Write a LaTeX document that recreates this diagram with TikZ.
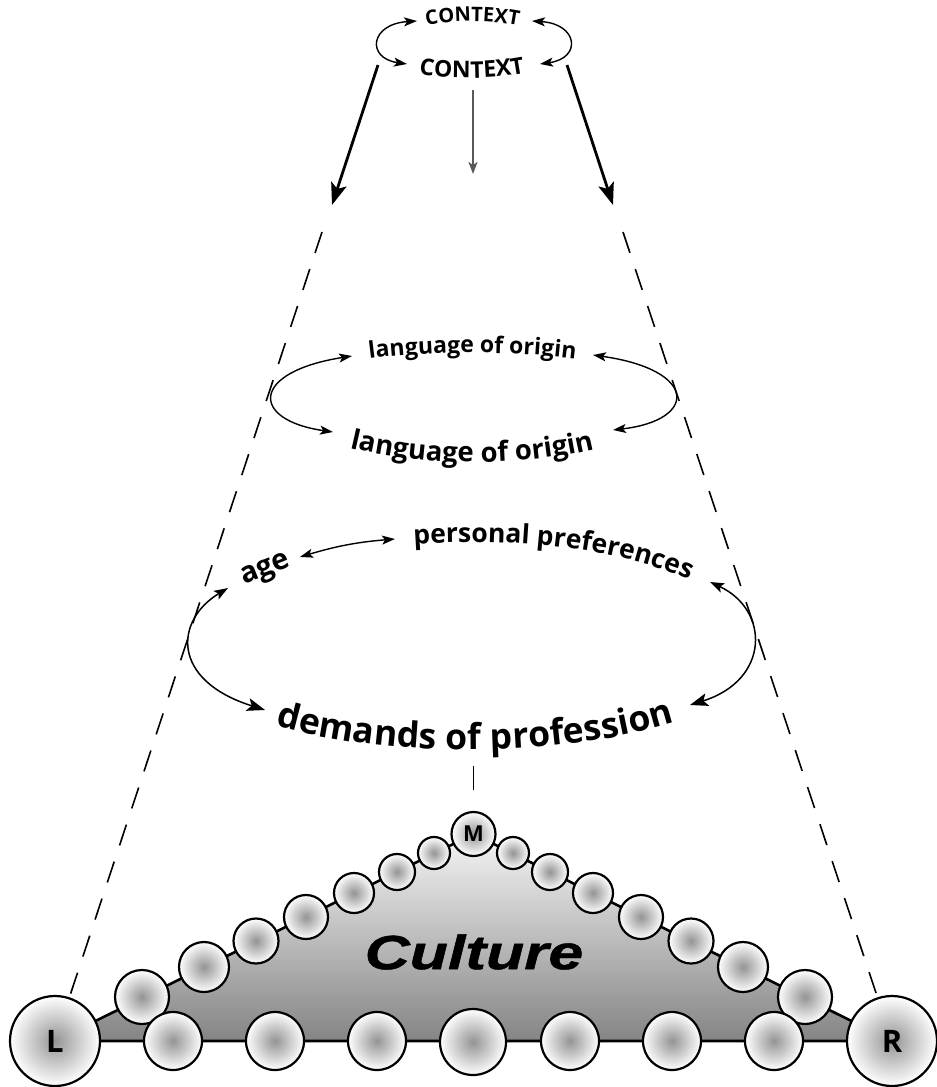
\documentclass[tikz,border=0pt]{standalone}
\usepackage{fontspec}
\setmainfont{Open Sans}
\newfontfamily\culturefont{Liberation Sans}[BoldItalicFeatures={FakeBold=0.9}]
\usetikzlibrary{arrows.meta,decorations.text}
\newcommand\fCa{\fontsize{20}{20}\selectfont\bfseries}
\newcommand\fCb{\fontsize{23}{23}\selectfont\bfseries}
\newcommand\fLa{\fontsize{23}{23}\selectfont\bfseries}
\newcommand\fLb{\fontsize{27.5}{27.5}\selectfont\bfseries}
\newcommand\fPP{\fontsize{26.5}{26.5}\selectfont\bfseries}
\newcommand\fDem{\fontsize{35.5}{35.5}\selectfont\bfseries}
\begin{document}
\begin{tikzpicture}[x=1pt,y=-1pt,line join=round,
  ball/.style={circle, draw, line width=2.2pt, inner sep=0pt, inner color=black!42, outer color=white},
  edge/.style={line width=2.6pt},
  sidedash/.style={line width=1.6pt, dash pattern=on 22pt off 17pt},
  thick arrow/.style={line width=2.8pt, -{Stealth[length=22pt,width=16pt,inset=5pt]}},
  thinarr/.style={line width=1.4pt, {Stealth[length=13pt,width=9pt,inset=3pt]}-{Stealth[length=13pt,width=9pt,inset=3pt]}},
  bigarr/.style={line width=1.5pt, {Stealth[length=14pt,width=10pt,inset=3pt]}-{Stealth[length=18pt,width=13pt,inset=4pt]}},
  grayarr/.style={line width=2pt, black!65, -{Stealth[length=12pt,width=9pt,inset=3pt]}},
  curvetext/.style={decorate, decoration={text along path, text align=center, text={#1}}}
]
\useasboundingbox (0,0) rectangle (937,1087);

% ---------- top: CONTEXT ----------
\path[curvetext={|\fCa|CONTEXT}] (416,28) .. controls (450,19) and (495,19) .. (529,28);
\path[curvetext={|\fCb|CONTEXT}] (410,73) .. controls (440,80) and (502,80) .. (534,71);
\coordinate (k1) at (417,21);
\coordinate (k2) at (407,64);
\coordinate (k3) at (532,21);
\coordinate (k4) at (540,64);
\draw[thinarr] (k1) .. controls (370,24) and (366,58) .. (k2);
\draw[thinarr] (k3) .. controls (578,24) and (582,58) .. (k4);

% ---------- thick arrows and dashed sides ----------
\coordinate (tl) at (378,65);
\coordinate (al) at (332,205);
\coordinate (tr) at (567,65);
\coordinate (ar) at (613,205);
\coordinate (dl) at (322,232);
\coordinate (dr) at (623,232);
\draw[thick arrow] (tl) -- (al);
\draw[thick arrow] (tr) -- (ar);
\coordinate (g1) at (473,90);
\coordinate (g2) at (473,174);
\draw[grayarr] (g1) -- (g2);

% ---------- language of origin ----------
\path[curvetext={|\fLa|language of origin}] (353,361) .. controls (420,350) and (520,350) .. (592,361);
\path[curvetext={|\fLb|language of origin}] (334,444) .. controls (420,468) and (530,468) .. (610,445);
\coordinate (la1) at (352,356);
\coordinate (la2) at (333,432);
\coordinate (la3) at (593,355);
\coordinate (la4) at (613,430);
\draw[thinarr] (la1) .. controls (250,372) and (250,420) .. (la2);
\draw[thinarr] (la3) .. controls (698,370) and (698,420) .. (la4);

% ---------- age / personal preferences / demands ----------
\node[font=\fontsize{29}{29}\selectfont\bfseries, rotate=22, inner sep=0pt] (age) at (266,571) {age};
\path[curvetext={|\fPP|personal preferences}] (402,545) .. controls (500,537) and (620,545) .. (700,585);
\path[curvetext={|\fDem|demands of profession}] (260,721) .. controls (380,760) and (570,760) .. (690,717);
\coordinate (ap1) at (300,557);
\coordinate (ap2) at (395,539);
\draw[thinarr] (ap1) to[bend left=6] (ap2);
\coordinate (lp1) at (228,588);
\coordinate (lp2) at (265,710);
\coordinate (rp1) at (710,582);
\coordinate (rp2) at (690,705);
\draw[bigarr] (lp1) .. controls (175,620) and (170,680) .. (lp2);
\draw[bigarr] (rp1) .. controls (770,610) and (770,680) .. (rp2);

% ---------- culture triangle ----------
\coordinate (Lc) at (55,1041);
\coordinate (Mc) at (473.5,834);
\coordinate (Rc) at (892,1041);
\draw[edge, top color=black!4, bottom color=black!48] (Lc) -- (Mc) -- (Rc) -- cycle;
\node (cult) at (474,952) {\culturefont\bfseries\itshape\fontsize{48}{48}\selectfont\scalebox{1.3}[1]{Culture}};

% chain circles, left side
\node[ball, minimum size=54pt] (c1) at (142,997) {};
\node[ball, minimum size=50pt] (c2) at (204,967) {};
\node[ball, minimum size=45pt] (c3) at (256,941) {};
\node[ball, minimum size=44pt] (c4) at (306,917) {};
\node[ball, minimum size=40pt] (c5) at (354,893) {};
\node[ball, minimum size=36pt] (c6) at (397,872) {};
\node[ball, minimum size=32pt] (c7) at (434,853) {};
% chain circles, right side
\node[ball, minimum size=32pt] (d7) at (513,853) {};
\node[ball, minimum size=36pt] (d6) at (550,872) {};
\node[ball, minimum size=40pt] (d5) at (593,893) {};
\node[ball, minimum size=44pt] (d4) at (641,917) {};
\node[ball, minimum size=45pt] (d3) at (691,941) {};
\node[ball, minimum size=50pt] (d2) at (743,967) {};
\node[ball, minimum size=54pt] (d1) at (805,997) {};
% bottom row
\node[ball, minimum size=58pt] (b1) at (173,1041) {};
\node[ball, minimum size=58pt] (b2) at (275,1041) {};
\node[ball, minimum size=58pt] (b3) at (377,1041) {};
\node[ball, minimum size=66pt] (b4) at (473,1042) {};
\node[ball, minimum size=58pt] (b5) at (570,1041) {};
\node[ball, minimum size=58pt] (b6) at (672,1041) {};
\node[ball, minimum size=58pt] (b7) at (774,1041) {};
% labelled circles
\node[ball, minimum size=44pt, font=\fontsize{22}{22}\selectfont\bfseries] (M) at (Mc) {M};
\node[ball, minimum size=90pt, font=\fontsize{31}{31}\selectfont\bfseries] (L) at (Lc) {L};
\node[ball, minimum size=90pt, font=\fontsize{31}{31}\selectfont\bfseries] (R) at (Rc) {R};

% dashed guides
\draw[sidedash] (dl) -- (L);
\draw[sidedash] (dr) -- (R);
\coordinate (dm) at (473.5,766);
\draw[line width=1.6pt, dash pattern=on 24pt off 40pt] (dm) -- (M);
\end{tikzpicture}
\end{document}
